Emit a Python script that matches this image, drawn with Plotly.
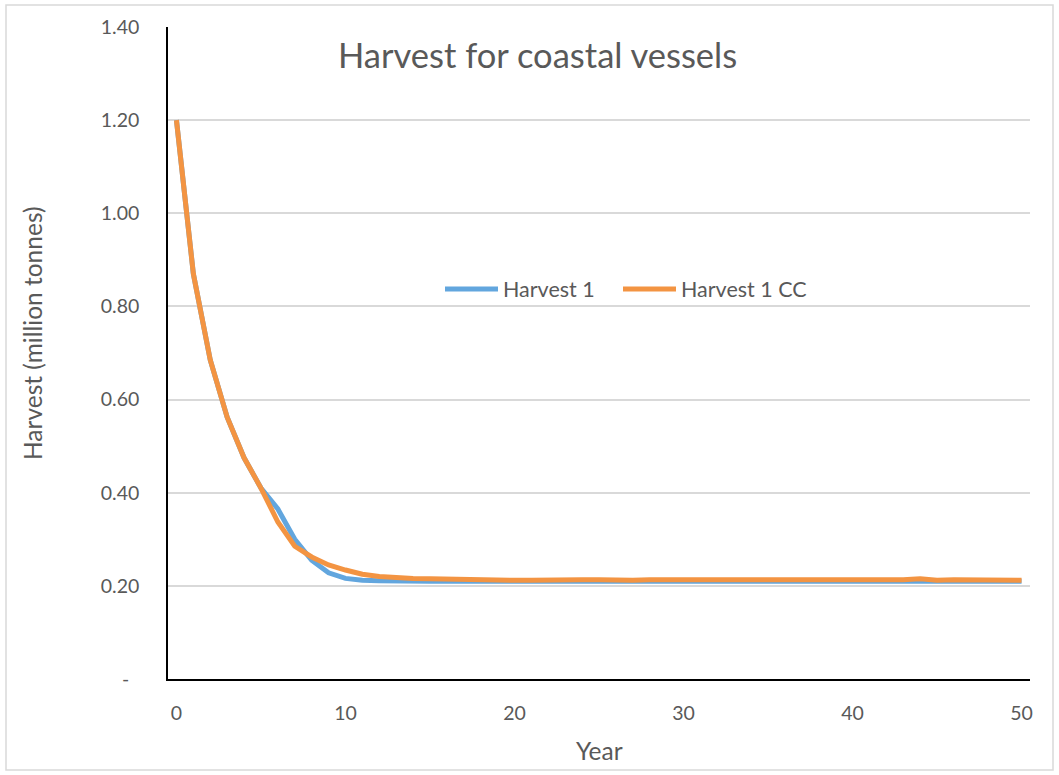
import plotly.graph_objects as go

years = list(range(0, 51))
harvest_1 = [1.200, 0.870, 0.685, 0.562, 0.475, 0.410, 0.365, 0.300, 0.255, 0.228,
             0.216, 0.212, 0.211, 0.210, 0.210, 0.210, 0.210, 0.210, 0.210, 0.210,
             0.210, 0.210, 0.211, 0.211, 0.211, 0.211, 0.210, 0.210, 0.211, 0.211,
             0.211, 0.210, 0.210, 0.210, 0.211, 0.210, 0.211, 0.211, 0.211, 0.211,
             0.211, 0.211, 0.211, 0.211, 0.212, 0.210, 0.211, 0.211, 0.211, 0.211,
             0.210]
harvest_1_cc = [1.200, 0.870, 0.685, 0.562, 0.475, 0.410, 0.337, 0.285, 0.262, 0.245,
                0.234, 0.225, 0.220, 0.217, 0.216, 0.215, 0.214, 0.213, 0.212, 0.212,
                0.212, 0.212, 0.213, 0.213, 0.213, 0.213, 0.212, 0.212, 0.213, 0.213,
                0.213, 0.212, 0.212, 0.212, 0.213, 0.212, 0.213, 0.213, 0.213, 0.213,
                0.213, 0.213, 0.213, 0.213, 0.215, 0.212, 0.213, 0.213, 0.213, 0.213,
                0.212]
y_ticks = [0, 0.2, 0.4, 0.6, 0.8, 1.0, 1.2, 1.4]
y_tick_labels = ["-\u00a0\u00a0", "0.20", "0.40", "0.60", "0.80", "1.00", "1.20", "1.40"]
x_ticks = [0, 10, 20, 30, 40, 50]

W, H = 1059, 775
# plot area in page pixels
L, R, T, B = 168, 1030, 27, 679

def px(x):
    return (x - L) / (R - L)

def py(y):
    return (B - y) / (B - T)

FONT = "Lato"
GRAY = "#595959"
TICK = 19.5

fig = go.Figure()
fig.add_trace(go.Scatter(x=years, y=harvest_1, mode="lines", name="Harvest 1",
                         line=dict(color="#62A6DE", width=5), legend="legend"))
fig.add_trace(go.Scatter(x=years, y=harvest_1_cc, mode="lines", name="Harvest 1 CC",
                         line=dict(color="#F39442", width=5), legend="legend2"))

leg_common = dict(orientation="h", xanchor="left", yanchor="middle", itemwidth=53,
                  font=dict(size=21.5, color=GRAY), bgcolor="rgba(0,0,0,0)")

fig.update_layout(
    width=W, height=H,
    margin=dict(l=L, r=W - R, t=T, b=H - B),
    paper_bgcolor="white", plot_bgcolor="white",
    font=dict(family=FONT, color=GRAY, size=TICK),
    showlegend=True,
    legend=dict(x=px(440), y=py(289), **leg_common),
    legend2=dict(x=px(618), y=py(289), **leg_common),
    xaxis=dict(range=[-0.5, 50.5], tickvals=x_ticks, showgrid=False, zeroline=False,
               showline=True, linecolor="black", linewidth=1.5, ticks="",
               ticklabelstandoff=16, tickfont=dict(size=TICK, color=GRAY)),
    yaxis=dict(range=[0, 1.4], tickvals=y_ticks, ticktext=y_tick_labels,
               showgrid=True, gridcolor="#D9D9D9", gridwidth=1.5, zeroline=False,
               showline=True, linecolor="black", linewidth=1.5, ticks="",
               ticklabelstandoff=23, tickfont=dict(size=TICK, color=GRAY)),
    annotations=[
        dict(text="Harvest for coastal vessels", x=px(537), y=py(55), xref="paper", yref="paper",
             showarrow=False, xanchor="center", yanchor="middle", font=dict(size=34.5, color=GRAY)),
        dict(text="Harvest (million tonnes)", x=px(33), y=py(333), xref="paper", yref="paper",
             showarrow=False, xanchor="center", yanchor="middle", textangle=-90,
             font=dict(size=24.5, color=GRAY)),
        dict(text="Year", x=px(599), y=py(750), xref="paper", yref="paper",
             showarrow=False, xanchor="center", yanchor="middle", font=dict(size=24.5, color=GRAY)),
    ],
    shapes=[
        dict(type="rect", xref="paper", yref="paper", x0=px(6), x1=px(1053), y0=py(5), y1=py(770),
             line=dict(color="#D9D9D9", width=1.5), fillcolor="rgba(0,0,0,0)", layer="below"),
    ],
)

fig.write_html("out.html", config={"displayModeBar": False},
               post_script="document.body.style.margin='0';document.body.style.overflow='hidden';")
